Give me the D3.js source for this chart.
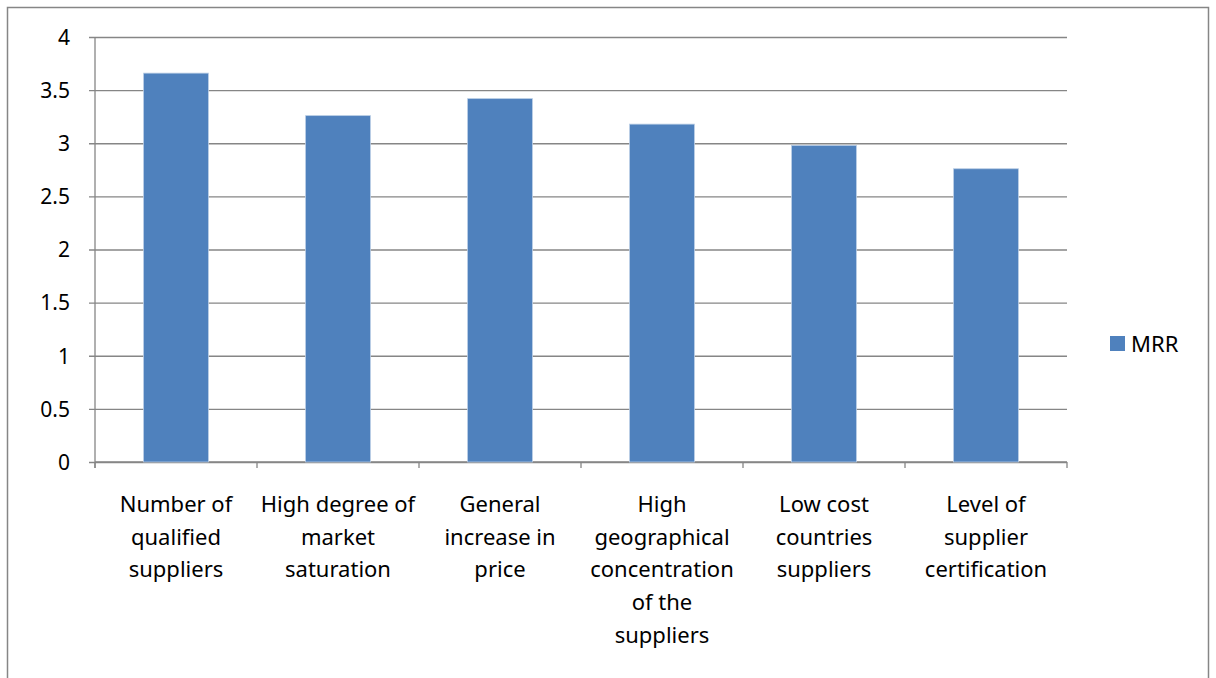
<!DOCTYPE html>
<html>
<head>
  <meta charset="utf-8">
  <script src="https://cdn.jsdelivr.net/npm/d3@7"></script>
  <style>
    body { margin: 0; background: #ffffff; }
    text { font-family: "Noto Sans", "Open Sans", sans-serif; fill: #000; }
  </style>
</head>
<body>
  <svg width="1216" height="678" id="mainsvg"></svg>
  <script>
    // categories, with the line breaks used in the picture
    const categories = [
      ["Number of", "qualified", "suppliers"],
      ["High degree of", "market", "saturation"],
      ["General", "increase in", "price"],
      ["High", "geographical", "concentration", "of the", "suppliers"],
      ["Low cost", "countries", "suppliers"],
      ["Level of", "supplier", "certification"]
    ];
    const mrr = [3.66, 3.26, 3.42, 3.18, 2.98, 2.76];
    const yTicks = [0, 0.5, 1, 1.5, 2, 2.5, 3, 3.5, 4];
    const seriesName = "MRR";

    const svg = d3.select('#mainsvg');
    const margin = { top: 37, left: 95, right: 149, bottom: 216 };
    const width = +svg.attr('width');
    const height = +svg.attr('height');
    const innerWidth = width - margin.left - margin.right;   // 972
    const innerHeight = height - margin.top - margin.bottom; // 425
    const barColor = '#4F81BD';
    const gridColor = '#868686';

    // outer frame: left, top and right edges (bottom is below the picture)
    svg.append('path')
      .attr('d', 'M7.5,678 V7.5 H1208.5 V678')
      .attr('fill', 'none')
      .attr('stroke', gridColor)
      .attr('stroke-width', 1.5);

    const idx = d3.range(categories.length);
    const xScale = d3.scaleBand()
      .domain(idx)
      .range([0, innerWidth])
      .paddingInner(0.6)
      .paddingOuter(0.3);
    const xEdge = d3.scaleLinear().domain([0, categories.length]).range([0, innerWidth]);
    const yScale = d3.scaleLinear().domain([0, 4]).range([innerHeight, 0]);

    const g = svg.append('g')
      .attr('transform', `translate(${margin.left}, ${margin.top})`);

    // horizontal gridlines + y axis
    const yAxis = d3.axisLeft(yScale)
      .tickValues(yTicks)
      .tickFormat(d => d)
      .tickSize(-innerWidth)
      .tickPadding(25);
    const yG = g.append('g').call(yAxis);
    yG.select('.domain').remove();
    yG.selectAll('.tick line')
      .attr('x1', -6)
      .attr('stroke', gridColor)
      .attr('stroke-width', 1.3);
    yG.selectAll('.tick text')
      .style('font-size', '21px')
      .attr('dy', '0.35em');

    // y axis line
    g.append('line')
      .attr('x1', 0).attr('x2', 0)
      .attr('y1', 0).attr('y2', innerHeight + 6)
      .attr('stroke', gridColor).attr('stroke-width', 1.3);

    // x axis line and category ticks
    g.append('line')
      .attr('x1', 0).attr('x2', innerWidth)
      .attr('y1', innerHeight).attr('y2', innerHeight)
      .attr('stroke', gridColor).attr('stroke-width', 1.3);
    g.selectAll('.xtick')
      .data(d3.range(categories.length + 1))
      .enter()
      .append('line')
      .attr('class', 'xtick')
      .attr('x1', d => xEdge(d)).attr('x2', d => xEdge(d))
      .attr('y1', innerHeight).attr('y2', innerHeight + 6)
      .attr('stroke', gridColor).attr('stroke-width', 1.3);

    // bars
    g.selectAll('.bar')
      .data(mrr)
      .enter()
      .append('rect')
      .attr('class', 'bar')
      .attr('x', (d, i) => xScale(i))
      .attr('y', d => yScale(d))
      .attr('width', xScale.bandwidth())
      .attr('height', d => innerHeight - yScale(d))
      .attr('fill', barColor)
      .attr('stroke', '#B9CDE5')
      .attr('stroke-width', 0.8);

    // category labels, one text per line
    const lineItems = [];
    categories.forEach((lines, i) => {
      lines.forEach((t, j) => lineItems.push({ i: i, j: j, t: t }));
    });
    g.selectAll('.cat')
      .data(lineItems)
      .enter()
      .append('text')
      .attr('class', 'cat')
      .attr('text-anchor', 'middle')
      .style('font-size', '22px')
      .attr('x', d => xScale(d.i) + xScale.bandwidth() / 2)
      .attr('y', d => innerHeight + 50 + d.j * 32.7)
      .text(d => d.t);

    // legend
    const legend = svg.append('g').attr('transform', 'translate(1110, 336)');
    legend.append('rect')
      .attr('width', 15).attr('height', 15)
      .attr('fill', barColor);
    legend.append('text')
      .attr('x', 21).attr('y', 16)
      .style('font-size', '22px')
      .text(seriesName);
  </script>
</body>
</html>
